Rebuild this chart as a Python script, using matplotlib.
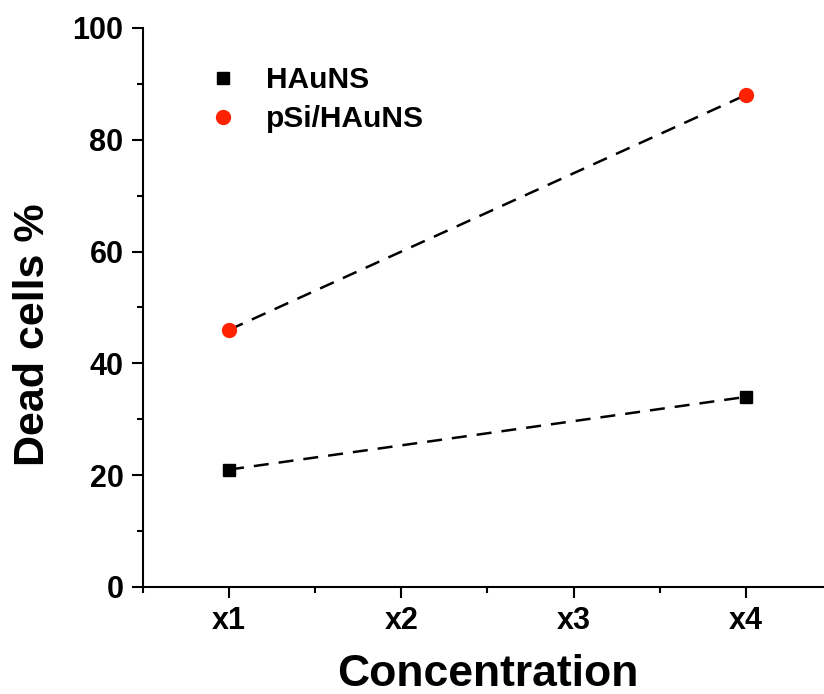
import matplotlib.pyplot as plt

plt.rcParams['font.family'] = ['Liberation Sans', 'DejaVu Sans']
plt.rcParams['font.weight'] = 'bold'

# data
conc = [1, 4]
tick_labels = ['x1', 'x2', 'x3', 'x4']
haun = [21, 34]
psi_haun = [46, 88]

fig = plt.figure(figsize=(8.24, 6.94), dpi=100)
ax = fig.add_axes([0.1735, 0.1542, 0.836, 0.8055])

ax.plot(conc, haun, color='black', lw=1.8, dashes=(6, 4))
ax.plot(conc, psi_haun, color='black', lw=1.8, dashes=(6, 4))
ax.plot(conc, haun, 's', color='black', ms=8, ls='none', label='HAuNS')
ax.plot(conc, psi_haun, 'o', color='#ff2200', ms=10, ls='none', label='pSi/HAuNS')

ax.set_xlim(0.5, 4.5)
ax.set_ylim(0, 100)
ax.set_xticks([1, 2, 3, 4])
ax.set_xticklabels(tick_labels)
ax.set_xticks([0.5, 1.5, 2.5, 3.5, 4.5], minor=True)
ax.set_yticks([0, 20, 40, 60, 80, 100])
ax.set_yticks([10, 30, 50, 70, 90], minor=True)

for side in ['top', 'right']:
    ax.spines[side].set_visible(False)
for side in ['left', 'bottom']:
    ax.spines[side].set_linewidth(1.5)
ax.tick_params(which='major', length=8, width=1.5, labelsize=22, pad=6)
ax.tick_params(which='minor', length=4, width=1.5)

ax.set_xlabel('Concentration', fontsize=32, fontweight='bold', labelpad=13)
ax.set_ylabel('Dead cells %', fontsize=31, fontweight='bold')
ax.yaxis.set_label_coords(-0.13, 0.451)

ax.legend(loc='upper left', bbox_to_anchor=(0.051, 0.98), frameon=False,
          fontsize=21.5, handletextpad=0.85, labelspacing=0.37, handlelength=1.2)

fig.savefig('out.png', dpi=100)
